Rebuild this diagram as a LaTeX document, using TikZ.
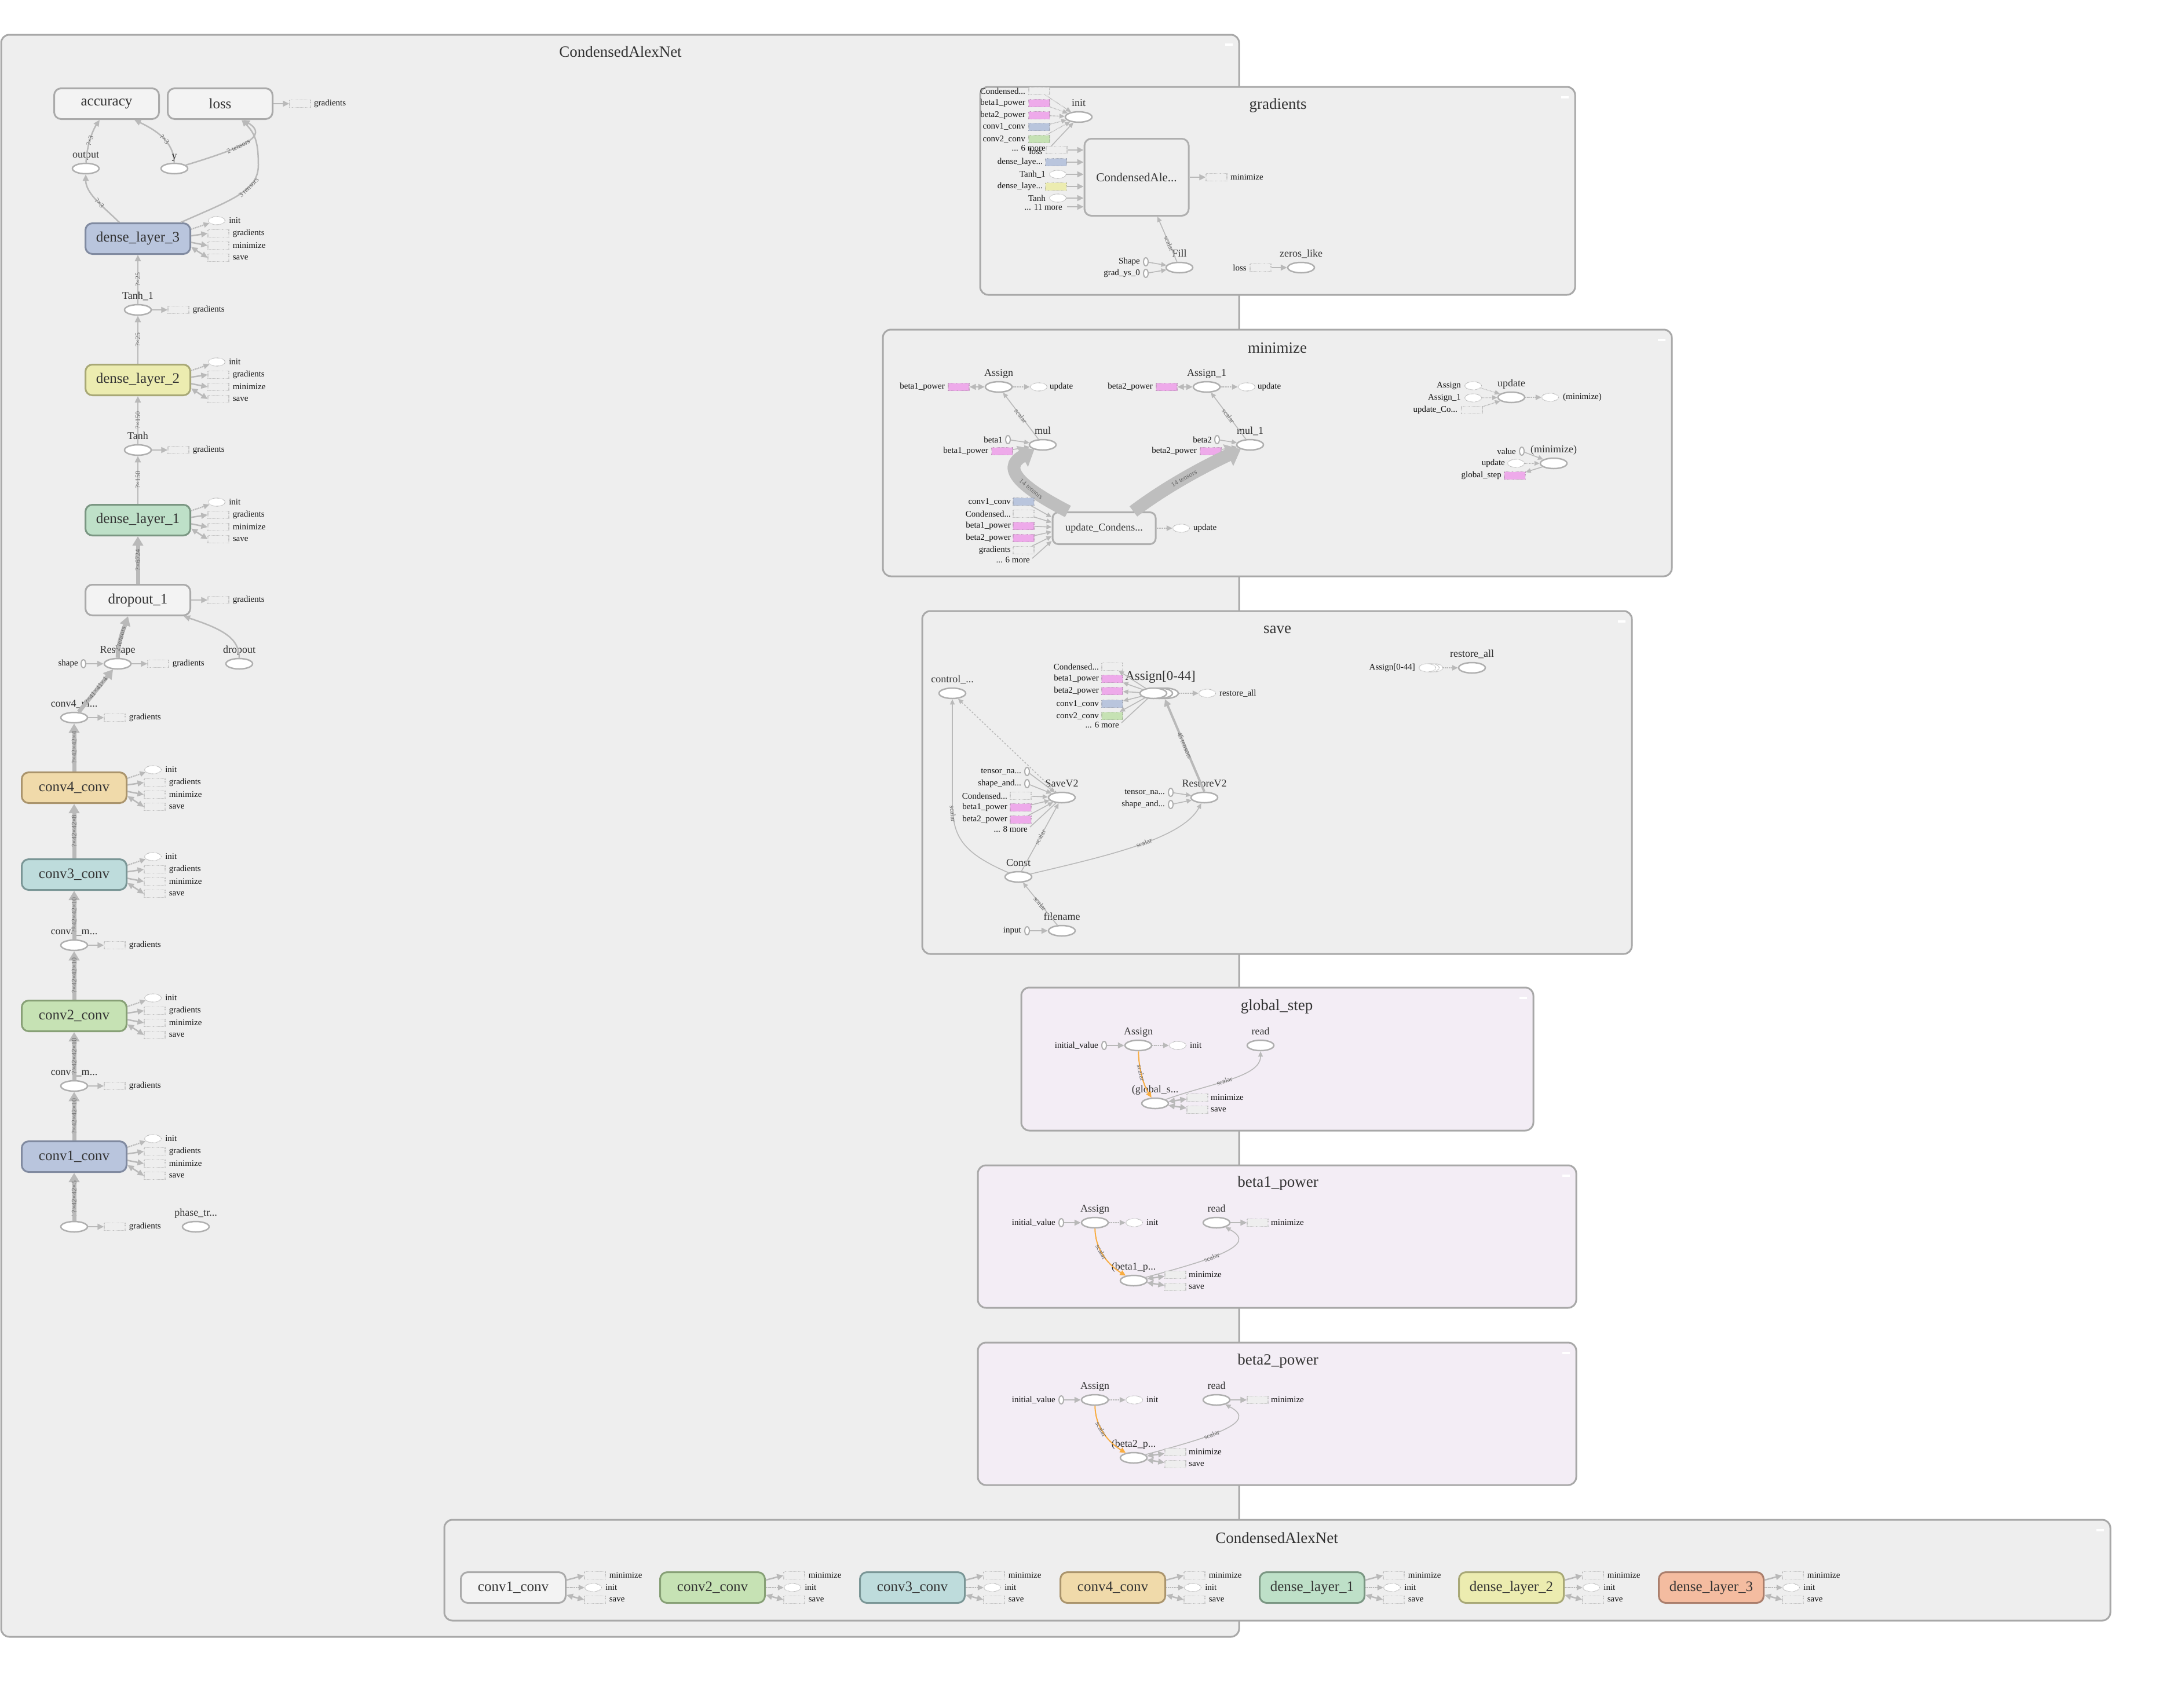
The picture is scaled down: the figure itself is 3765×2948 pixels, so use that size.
\documentclass[tikz,border=0pt]{standalone}
\usepackage{fontspec}
\setmainfont{Liberation Serif}
\usetikzlibrary{shapes.geometric,arrows.meta,calc}

% palette
\definecolor{bgmain}{RGB}{238,238,238}
\definecolor{bglav}{RGB}{243,237,245}
\definecolor{gline}{RGB}{168,168,168}
\definecolor{ecol}{RGB}{185,185,185}
\definecolor{bandcol}{RGB}{190,190,190}
\definecolor{opline}{RGB}{175,175,175}
\definecolor{dcol}{RGB}{185,185,185}
\definecolor{ntxt}{RGB}{51,51,51}
\definecolor{ltxt}{RGB}{20,20,20}
\definecolor{etxt}{RGB}{105,105,105}
\definecolor{fbox}{RGB}{243,243,243}
\definecolor{lwht}{RGB}{170,170,170}
\definecolor{fblue}{RGB}{185,197,221}
\definecolor{lblue}{RGB}{128,138,160}
\definecolor{fyel}{RGB}{236,236,176}
\definecolor{lyel}{RGB}{168,168,118}
\definecolor{fgrn}{RGB}{190,224,200}
\definecolor{lgrn}{RGB}{122,150,130}
\definecolor{fgrn2}{RGB}{198,226,180}
\definecolor{lgrn2}{RGB}{135,160,118}
\definecolor{fteal}{RGB}{190,220,220}
\definecolor{lteal}{RGB}{122,150,150}
\definecolor{ftan}{RGB}{240,218,170}
\definecolor{ltan}{RGB}{170,148,108}
\definecolor{fsal}{RGB}{244,188,160}
\definecolor{lsal}{RGB}{170,126,108}
\definecolor{fpink}{RGB}{238,170,234}
\definecolor{orng}{RGB}{248,172,64}

\tikzset{
  grp/.style={draw=gline, line width=3pt, rounded corners=14pt, fill=#1},
  ttl/.style={font=\fontsize{27}{30}\selectfont, text=ntxt, inner sep=0pt},
  meta/.style 2 args={rectangle, draw=#2, fill=#1, line width=3pt, rounded corners=12pt,
      minimum width=181pt, minimum height=53pt, inner sep=0pt,
      font=\fontsize{25}{28}\selectfont, text=ntxt},
  op/.style={ellipse, draw=opline, fill=white, line width=2.5pt,
      minimum width=46pt, minimum height=18pt, inner sep=0pt},
  cst/.style={ellipse, draw=opline, fill=white, line width=2pt,
      minimum width=8pt, minimum height=14pt, inner sep=0pt},
  dbox/.style={rectangle, draw=#1!60!gray, densely dotted, line width=1.2pt, fill=#1,
      minimum width=36pt, minimum height=13pt, inner sep=0pt},
  dbox/.default=bgmain,
  dell/.style={ellipse, draw=dcol, densely dotted, line width=1.2pt, fill=white,
      minimum width=29pt, minimum height=14pt, inner sep=0pt},
  oplab/.style={font=\fontsize{18}{20}\selectfont, text=ntxt, inner sep=0pt,
      text depth=0pt, label distance=8pt},
  slab/.style={font=\fontsize{15}{17}\selectfont, text=ltxt, anchor=west, inner sep=0pt},
  ilab/.style={font=\fontsize{15}{17}\selectfont, text=ltxt, anchor=east, inner sep=0pt},
  elab/.style={font=\fontsize{12}{13}\selectfont, text=etxt, sloped, inner sep=1pt},
  e/.style={draw=ecol, line width=2.5pt, -{Triangle[length=11pt,width=10pt]}},
  ebi/.style={draw=ecol, line width=2.5pt,
      {Triangle[length=11pt,width=10pt]}-{Triangle[length=11pt,width=10pt]}},
  ethin/.style={draw=ecol, line width=1.6pt, -{Triangle[length=9pt,width=8pt]}},
  eplain/.style={draw=ecol, line width=1.6pt},
  ectl/.style={draw=ecol, line width=2.2pt, densely dotted, -{Triangle[length=10pt,width=9pt]}},
  ectlthin/.style={draw=ecol, line width=1.4pt, densely dotted, -{Triangle[length=9pt,width=8pt]}},
  edash/.style={draw=ecol, line width=1.6pt, dashed, -{Triangle[length=9pt,width=8pt]}},
  ethick/.style={draw=ecol, line width=7pt, -{Triangle[length=16pt,width=18pt]}},
  eband/.style={draw=bandcol, line width=22pt, -{Triangle[length=24pt,width=40pt]}},
  eorg/.style={draw=orng, line width=2pt, -{Triangle[length=10pt,width=9pt]}},
}

% four sinks (init, gradients, minimize, save) on the right of a layer box
\newcommand\sidefour[1]{%
  \node[dell] (#1-i) at ($(#1.east)+(44,-31)$) {};
  \node[dbox] (#1-g) at ($(#1.east)+(47,-9)$) {};
  \node[dbox] (#1-m) at ($(#1.east)+(47,12)$) {};
  \node[dbox] (#1-s) at ($(#1.east)+(47,33)$) {};
  \node[slab] (#1-it) at ($(#1-i.east)+(6,0)$) {init};
  \node[slab] (#1-gt) at ($(#1-g.east)+(6,0)$) {gradients};
  \node[slab] (#1-mt) at ($(#1-m.east)+(6,0)$) {minimize};
  \node[slab] (#1-st) at ($(#1-s.east)+(6,0)$) {save};
  \draw[ectl] (#1.10) -- (#1-i);
  \draw[e] (#1.3) -- (#1-g.west);
  \draw[e] (#1.-4) -- (#1-m.west);
  \draw[ebi] (#1.-9) -- (#1-s.west);
}
% three sinks (minimize, init, save) for the layer boxes of the lower group
\newcommand\sidethree[1]{%
  \node[dbox] (#1-m) at ($(#1.east)+(49,-21)$) {};
  \node[dell] (#1-i) at ($(#1.east)+(46,0)$) {};
  \node[dbox] (#1-s) at ($(#1.east)+(49,21)$) {};
  \node[slab] (#1-mt) at ($(#1-m.east)+(6,0)$) {minimize};
  \node[slab] (#1-it) at ($(#1-i.east)+(6,0)$) {init};
  \node[slab] (#1-st) at ($(#1-s.east)+(6,0)$) {save};
  \draw[e] (#1.8) -- (#1-m.west);
  \draw[ectl] (#1.east) -- (#1-i);
  \draw[ebi] (#1.-8) -- (#1-s.west);
}
% a gradients sink on the right of an op
\newcommand\gradsink[1]{%
  \node[dbox] (#1-g) at ($(#1)+(70,0)$) {};
  \node[slab] (#1-gt) at ($(#1-g.east)+(6,0)$) {gradients};
  \draw[e] (#1) -- (#1-g);
}

\begin{document}
\begin{tikzpicture}[x=1pt,y=-1pt]
\useasboundingbox (0,0) rectangle (3765,2948);
\fill[white] (0,0) rectangle (3765,2948);

% ================= main graph =================
\draw[grp=bgmain] (2,60) rectangle (2139,2826);
\fill[white] (2115,75) rectangle (2128,79);
\node[ttl] (mt) at (1071,89) {CondensedAlexNet};

\node[meta={fbox}{lwht}] (acc) at (184,179) {accuracy};
\node[meta={fbox}{lwht}] (loss) at (380,179) {loss};
\node[dbox] (loss-g) at (518,179) {};
\node[slab] (loss-gt) at (542,179) {gradients};
\draw[e] (loss) -- (loss-g);

\node[op,label={[oplab]90:output}] (out) at (148,291) {};
\node[op] (yv) at (301,291) {};
\node[meta={fblue}{lblue}] (dl3) at (238,412) {dense\_layer\_3};
\node[op,label={[oplab]90:Tanh\_1}] (tanh1) at (238,535) {};
\node[meta={fyel}{lyel}] (dl2) at (238,656) {dense\_layer\_2};
\node[op,label={[oplab]90:Tanh}] (tanh) at (238,777) {};
\node[meta={fgrn}{lgrn}] (dl1) at (238,898) {dense\_layer\_1};
\node[meta={fbox}{lwht}] (drop1) at (238,1036) {dropout\_1};
\node[op,label={[oplab]90:Reshape}] (resh) at (203,1146) {};
\node[cst] (shape) at (144,1146) {};
\node[ilab] (shape-t) at (135,1146) {shape};
\node[op,label={[oplab]90:dropout}] (dropo) at (413,1146) {};
\node[op,label={[oplab]90:conv4\_m...}] (c4m) at (128,1239) {};
\node[meta={ftan}{ltan}] (c4) at (128,1360) {conv4\_conv};
\node[meta={fteal}{lteal}] (c3) at (128,1510) {conv3\_conv};
\node[op,label={[oplab]90:conv3\_m...}] (c3m) at (128,1632) {};
\node[meta={fgrn2}{lgrn2}] (c2) at (128,1754) {conv2\_conv};
\node[op,label={[oplab]90:conv1\_m...}] (c1m) at (128,1875) {};
\node[meta={fblue}{lblue}] (c1) at (128,1997) {conv1\_conv};
\node[op,label={[oplab]90:x}] (xin) at (128,2118) {};
\node[op,label={[oplab]90:phase\_tr...}] (phase) at (338,2118) {};

\sidefour{dl3}
\sidefour{dl2}
\sidefour{dl1}
\sidefour{c4}
\sidefour{c3}
\sidefour{c2}
\sidefour{c1}
\gradsink{tanh1}
\gradsink{tanh}
\gradsink{resh}
\gradsink{c4m}
\gradsink{c3m}
\gradsink{c1m}
\gradsink{xin}
\node[dbox] (drop1-g) at ($(drop1.east)+(47,0)$) {};
\node[slab] (drop1-gt) at ($(drop1-g.east)+(6,0)$) {gradients};
\draw[e] (drop1) -- (drop1-g);

% data flow of the main column
\draw[ethick] (xin) -- (c1) node[elab,midway]{?×42×42×5};
\draw[ethick] (c1) -- (c1m) node[elab,midway]{?×42×42×10};
\draw[ethick] (c1m) -- (c2) node[elab,midway]{?×42×42×10};
\draw[ethick] (c2) -- (c3m) node[elab,midway]{?×42×42×10};
\draw[ethick] (c3m) -- (c3) node[elab,midway]{?×42×42×10};
\draw[ethick] (c3) -- (c4) node[elab,midway]{?×42×42×8};
\draw[ethick] (c4) -- (c4m) node[elab,midway]{?×42×42×4};
\draw[ethick] (c4m) -- (resh) node[elab,midway]{?×41×41×4};
\draw[ethick] (resh) .. controls (204,1105) and (214,1085) .. ($(drop1.south)+(-17,0)$) node[elab,pos=0.4]{2 tensors};
\draw[e] (shape) -- (resh);
\draw[e] (dropo) .. controls (413,1100) and (380,1085) .. ($(drop1.south)+(79,0)$);
\draw[ethick] (drop1) -- (dl1) node[elab,midway]{?×6724};
\draw[e] (dl1) -- (tanh) node[elab,midway]{?×150};
\draw[e] (tanh) -- (dl2) node[elab,midway]{?×150};
\draw[e] (dl2) -- (tanh1) node[elab,midway]{?×25};
\draw[e] (tanh1) -- (dl3) node[elab,midway]{?×25};
\draw[e] ($(dl3.north)+(-32,0)$) .. controls (182,360) and (148,335) .. (out) node[elab,pos=0.45]{?×3};
\draw[e] (out) .. controls (150,250) and (160,225) .. ($(acc.south)+(-12,0)$) node[elab,pos=0.45]{?×3};
\draw[e] (yv) .. controls (300,245) and (270,225) .. ($(acc.south)+(48,0)$) node[elab,pos=0.45]{?×3};
\draw[e] (yv) .. controls (420,255) and (465,235) .. ($(loss.south)+(40,0)$) node[elab,pos=0.4]{2 tensors};
\draw[e] ($(dl3.north)+(74,0)$) .. controls (400,345) and (446,330) .. (446,285) node[elab,pos=0.65]{3 tensors} .. controls (446,245) and (440,230) .. ($(loss.south)+(37,0)$);
\node[oplab, anchor=base] (yv-t) at (301,274) {y};

% ================= gradients =================
\draw[grp=bgmain] (1692,150) rectangle (2719,509);
\fill[white] (2695,166) rectangle (2708,170);
\node[ttl] (gt) at (2206,182) {gradients};
\node[op,label={[oplab]90:init}] (g-init) at (1862,202) {};
\node[dbox] (gi1) at (1794,157) {};
\node[ilab] (gi1t) at (1770,157) {Condensed...};
\node[dbox=fpink] (gi2) at (1794,178) {};
\node[ilab] (gi2t) at (1770,178) {beta1\_power};
\node[dbox=fpink] (gi3) at (1794,199) {};
\node[ilab] (gi3t) at (1770,199) {beta2\_power};
\node[dbox=fblue] (gi4) at (1794,219) {};
\node[ilab] (gi4t) at (1770,219) {conv1\_conv};
\node[dbox=fgrn2] (gi5) at (1794,240) {};
\node[ilab] (gi5t) at (1770,240) {conv2\_conv};
\node[ilab] (gi6t) at (1805,256) {... 6 more};
\coordinate (gi6) at (1814,253);
\draw[ectlthin] (gi1) -- (g-init);
\draw[ectlthin] (gi2) -- (g-init);
\draw[ectlthin] (gi3) -- (g-init);
\draw[ectlthin] (gi4) -- (g-init);
\draw[ectlthin] (gi5) -- (g-init);
\draw[ethin] (gi6) -- (g-init);

\node[rectangle, draw=opline, fill=bgmain, line width=3pt, rounded corners=12pt,
      minimum width=180pt, minimum height=133pt, inner sep=0pt,
      font=\fontsize{21}{23}\selectfont, text=ntxt] (g-ca) at (1962,306) {CondensedAle...};
\node[dbox] (gc1) at (1824,259) {};
\node[ilab] (gc1t) at (1800,261) {loss};
\node[dbox=fblue] (gc2) at (1823,280) {};
\node[ilab] (gc2t) at (1800,280) {dense\_laye...};
\node[dell] (gc3) at (1826,301) {};
\node[ilab] (gc3t) at (1805,301) {Tanh\_1};
\node[dbox=fyel] (gc4) at (1823,322) {};
\node[ilab] (gc4t) at (1800,322) {dense\_laye...};
\node[dell] (gc5) at (1826,342) {};
\node[ilab] (gc5t) at (1805,342) {Tanh};
\node[ilab] (gc6t) at (1834,358) {... 11 more};
\coordinate (gc6) at (1842,357);
\draw[e] (gc1) -- (gc1 -| g-ca.west);
\draw[e] (gc2) -- (gc2 -| g-ca.west);
\draw[e] (gc3) -- (gc3 -| g-ca.west);
\draw[e] (gc4) -- (gc4 -| g-ca.west);
\draw[e] (gc5) -- (gc5 -| g-ca.west);
\draw[e] (gc6) -- (gc6 -| g-ca.west);
\node[dbox] (g-min) at (2100,306) {};
\node[slab] (g-mint) at (2124,306) {minimize};
\draw[e] (g-ca) -- (g-min);

\node[op,label={[oplab]90:Fill}] (g-fill) at (2036,462) {};
\node[cst] (g-shape) at (1978,452) {};
\node[ilab] (g-shapet) at (1968,452) {Shape};
\node[cst] (g-ys) at (1978,472) {};
\node[ilab] (g-yst) at (1968,472) {grad\_ys\_0};
\draw[ethin] (g-shape) -- (g-fill);
\draw[ethin] (g-ys) -- (g-fill);
\draw[ethin] (g-fill) -- ($(g-ca.south)+(36,0)$) node[elab,pos=0.4]{scalar};
\node[op,label={[oplab]90:zeros\_like}] (g-zl) at (2246,462) {};
\node[dbox] (g-zlin) at (2176,462) {};
\node[ilab] (g-zlint) at (2152,462) {loss};
\draw[e] (g-zlin) -- (g-zl);

% ================= minimize =================
\draw[grp=bgmain] (1524,569) rectangle (2886,995);
\fill[white] (2862,585) rectangle (2875,589);
\node[ttl] (mnt) at (2205,601) {minimize};

\node[op,label={[oplab]90:Assign}] (m-as) at (1724,668) {};
\node[dbox=fpink] (m-asv) at (1655,668) {};
\node[ilab] (m-asvt) at (1631,668) {beta1\_power};
\node[dell] (m-asu) at (1793,668) {};
\node[slab] (m-asut) at (1812,668) {update};
\draw[ebi] (m-asv) -- (m-as);
\draw[ectl] (m-as) -- (m-asu);

\node[op,label={[oplab]90:Assign\_1}] (m-as1) at (2083,668) {};
\node[dbox=fpink] (m-as1v) at (2014,668) {};
\node[ilab] (m-as1vt) at (1990,668) {beta2\_power};
\node[dell] (m-as1u) at (2152,668) {};
\node[slab] (m-as1ut) at (2171,668) {update};
\draw[ebi] (m-as1v) -- (m-as1);
\draw[ectl] (m-as1) -- (m-as1u);

\node[op,label={[oplab]90:mul}] (m-mul) at (1800,768) {};
\node[cst] (m-b1) at (1740,759) {};
\node[ilab] (m-b1t) at (1731,759) {beta1};
\node[dbox=fpink] (m-b1p) at (1730,779) {};
\node[ilab] (m-b1pt) at (1706,779) {beta1\_power};
\draw[ethin] (m-b1) -- (m-mul);
\draw[ethin] (m-b1p) -- (m-mul);
\draw[ethin] (m-mul) -- (m-as) node[elab,midway]{scalar};

\node[op,label={[oplab]90:mul\_1}] (m-mul1) at (2158,768) {};
\node[cst] (m-b2) at (2101,759) {};
\node[ilab] (m-b2t) at (2092,759) {beta2};
\node[dbox=fpink] (m-b2p) at (2090,779) {};
\node[ilab] (m-b2pt) at (2066,779) {beta2\_power};
\draw[ethin] (m-b2) -- (m-mul1);
\draw[ethin] (m-b2p) -- (m-mul1);
\draw[ethin] (m-mul1) -- (m-as1) node[elab,midway]{scalar};

\node[rectangle, draw=opline, fill=bgmain, line width=3pt, rounded corners=10pt,
      minimum width=178pt, minimum height=55pt, inner sep=0pt,
      font=\fontsize{18}{20}\selectfont, text=ntxt] (m-uc) at (1906,912) {update\_Condens...};
\draw[eband] ($(m-uc.north west)+(28,0)$) .. controls (1770,845) and (1725,810) .. (m-mul) node[elab,pos=0.35]{14 tensors};
\draw[eband] ($(m-uc.north east)+(-40,0)$) .. controls (2020,835) and (2090,800) .. (m-mul1) node[elab,pos=0.45]{14 tensors};
\node[dbox=fblue] (m-u1) at (1767,866) {};
\node[ilab] (m-u1t) at (1745,866) {conv1\_conv};
\node[dbox] (m-u2) at (1767,887) {};
\node[ilab] (m-u2t) at (1745,887) {Condensed...};
\node[dbox=fpink] (m-u3) at (1767,908) {};
\node[ilab] (m-u3t) at (1745,908) {beta1\_power};
\node[dbox=fpink] (m-u4) at (1767,929) {};
\node[ilab] (m-u4t) at (1745,929) {beta2\_power};
\node[dbox] (m-u5) at (1767,950) {};
\node[ilab] (m-u5t) at (1745,950) {gradients};
\node[ilab] (m-u6t) at (1778,967) {... 6 more};
\coordinate (m-u6) at (1782,964);
\draw[ethin] (m-u1) -- ($(m-uc.west)+(0,-19)$);
\draw[ethin] (m-u2) -- ($(m-uc.west)+(0,-10)$);
\draw[ethin] (m-u3) -- ($(m-uc.west)+(0,-2)$);
\draw[ethin] (m-u4) -- ($(m-uc.west)+(0,6)$);
\draw[ethin] (m-u5) -- ($(m-uc.west)+(0,14)$);
\draw[ethin] (m-u6) -- ($(m-uc.west)+(0,22)$);
\node[dell] (m-ucu) at (2039,912) {};
\node[slab] (m-ucut) at (2060,912) {update};
\draw[ectl] (m-uc) -- (m-ucu);

\node[op,label={[oplab]90:update}] (m-upd) at (2609,686) {};
\node[dell] (m-ud1) at (2543,666) {};
\node[ilab] (m-ud1t) at (2522,666) {Assign};
\node[dell] (m-ud2) at (2543,687) {};
\node[ilab] (m-ud2t) at (2522,687) {Assign\_1};
\node[dbox] (m-ud3) at (2541,708) {};
\node[ilab] (m-ud3t) at (2516,708) {update\_Co...};
\draw[ectlthin] (m-ud1) -- (m-upd);
\draw[ectlthin] (m-ud2) -- (m-upd);
\draw[ectlthin] (m-ud3) -- (m-upd);
\node[dell] (m-updo) at (2676,686) {};
\node[slab] (m-updot) at (2698,686) {(minimize)};
\draw[ectl] (m-upd) -- (m-updo);

\node[op,label={[oplab]90:(minimize)}] (m-fin) at (2682,800) {};
\node[cst] (m-val) at (2627,779) {};
\node[ilab] (m-valt) at (2617,779) {value};
\node[dell] (m-fu) at (2617,800) {};
\node[ilab] (m-fut) at (2598,800) {update};
\node[dbox=fpink] (m-gs) at (2615,821) {};
\node[ilab] (m-gst) at (2592,821) {global\_step};
\draw[ethin] (m-val) -- (m-fin);
\draw[ectlthin] (m-fu) -- (m-fin);
\draw[ethin] (m-fin) -- (m-gs);

% ================= save =================
\draw[grp=bgmain] (1592,1055) rectangle (2817,1647);
\fill[white] (2793,1071) rectangle (2806,1075);
\node[ttl] (svt) at (2205,1087) {save};

\node[op,label={[oplab]90:control\_...}] (s-ctl) at (1644,1197) {};
\node[op] (s-a3) at (2011,1197) {};
\node[op] (s-a2) at (2001,1197) {};
\node[op] (s-asg) at (1991,1197) {};
\node[font=\fontsize{23}{25}\selectfont, text=ntxt, inner sep=0pt] (s-asgt) at (2003,1169) {Assign[0-44]};
\node[dbox] (s-v1) at (1920,1151) {};
\node[ilab] (s-v1t) at (1897,1151) {Condensed...};
\node[dbox=fpink] (s-v2) at (1920,1172) {};
\node[ilab] (s-v2t) at (1897,1172) {beta1\_power};
\node[dbox=fpink] (s-v3) at (1920,1193) {};
\node[ilab] (s-v3t) at (1897,1193) {beta2\_power};
\node[dbox=fblue] (s-v4) at (1920,1215) {};
\node[ilab] (s-v4t) at (1897,1215) {conv1\_conv};
\node[dbox=fgrn2] (s-v5) at (1920,1236) {};
\node[ilab] (s-v5t) at (1932,1252) {... 6 more};
\node[ilab] (s-v5tt) at (1897,1236) {conv2\_conv};
\coordinate (s-v6) at (1936,1248);
\draw[ethin] (s-asg) -- (s-v1);
\draw[ethin] (s-asg) -- (s-v2);
\draw[ethin] (s-asg) -- (s-v3);
\draw[ethin] (s-asg) -- (s-v4);
\draw[ethin] (s-asg) -- (s-v5);
\draw[eplain] (s-asg) -- (s-v6);
\node[dell] (s-ra) at (2084,1197) {};
\node[slab] (s-rat) at (2105,1197) {restore\_all};
\draw[ectl] (s-a3) -- (s-ra);

\node[op,label={[oplab]90:restore\_all}] (s-rall) at (2541,1153) {};
\node[dell] (s-rin3) at (2476,1153) {};
\node[dell] (s-rin2) at (2470,1153) {};
\node[dell] (s-rin) at (2464,1153) {};
\node[ilab] (s-rint) at (2443,1153) {Assign[0-44]};
\draw[ectl] (s-rin3) -- (s-rall);

\node[op,label={[oplab]90:SaveV2}] (s-save) at (1833,1377) {};
\node[cst] (s-t1) at (1773,1332) {};
\node[ilab] (s-t1t) at (1763,1332) {tensor\_na...};
\node[cst] (s-t2) at (1773,1353) {};
\node[ilab] (s-t2t) at (1763,1353) {shape\_and...};
\node[dbox] (s-t3) at (1762,1374) {};
\node[ilab] (s-t3t) at (1739,1374) {Condensed...};
\node[dbox=fpink] (s-t4) at (1762,1394) {};
\node[ilab] (s-t4t) at (1739,1394) {beta1\_power};
\node[dbox=fpink] (s-t5) at (1762,1415) {};
\node[ilab] (s-t5t) at (1739,1415) {beta2\_power};
\node[ilab] (s-t6t) at (1774,1432) {... 8 more};
\coordinate (s-t6) at (1778,1428);
\draw[ethin] (s-t1) -- (s-save);
\draw[ethin] (s-t2) -- (s-save);
\draw[ethin] (s-t3) -- (s-save);
\draw[ethin] (s-t4) -- (s-save);
\draw[ethin] (s-t5) -- (s-save);
\draw[eplain] (s-t6) -- (s-save);
\draw[edash] (s-save) -- (s-ctl);

\node[op,label={[oplab]90:RestoreV2}] (s-rv) at (2079,1377) {};
\node[cst] (s-r1) at (2021,1368) {};
\node[ilab] (s-r1t) at (2011,1368) {tensor\_na...};
\node[cst] (s-r2) at (2021,1389) {};
\node[ilab] (s-r2t) at (2011,1389) {shape\_and...};
\draw[ethin] (s-r1) -- (s-rv);
\draw[ethin] (s-r2) -- (s-rv);
\draw[draw=ecol, line width=4pt, -{Triangle[length=12pt,width=12pt]}] (s-rv.north) -- (s-a3.south) node[elab,midway]{45 tensors};

\node[op,label={[oplab]90:Const}] (s-const) at (1758,1514) {};
\draw[ethin] (s-const) .. controls (1655,1470) and (1644,1440) .. (1644,1380) node[elab,pos=0.85]{scalar} -- (s-ctl);
\draw[ethin] (s-const) -- (s-save) node[elab,midway]{scalar};
\draw[ethin] (s-const) .. controls (1900,1480) and (2040,1450) .. (s-rv) node[elab,pos=0.55]{scalar};
\node[op,label={[oplab]90:filename}] (s-fn) at (1833,1607) {};
\node[cst] (s-in) at (1773,1607) {};
\node[ilab] (s-int) at (1763,1607) {input};
\draw[e] (s-in) -- (s-fn);
\draw[ethin] (s-fn) -- (s-const) node[elab,midway]{scalar};

% ================= global_step =================
\draw[grp=bglav] (1763,1705) rectangle (2647,1952);
\fill[white] (2623,1721) rectangle (2636,1725);
\node[ttl] (gst) at (2204,1738) {global\_step};
\node[op,label={[oplab]90:Assign}] (gs-as) at (1965,1805) {};
\node[cst] (gs-iv) at (1906,1805) {};
\node[ilab] (gs-ivt) at (1896,1805) {initial\_value};
\node[dell] (gs-init) at (2033,1805) {};
\node[slab] (gs-initt) at (2054,1805) {init};
\draw[e] (gs-iv) -- (gs-as);
\draw[ectl] (gs-as) -- (gs-init);
\node[op,label={[oplab]90:read}] (gs-rd) at (2176,1805) {};
\node[op,label={[oplab]90:(global\_s...}] (gs-v) at (1994,1905) {};
\draw[eorg] (gs-as) .. controls (1966,1850) and (1975,1875) .. (gs-v) node[elab,pos=0.4]{scalar};
\draw[ethin] (gs-v) .. controls (2090,1870) and (2176,1860) .. (gs-rd) node[elab,pos=0.45]{scalar};
\node[dbox] (gs-m) at (2067,1895) {};
\node[slab] (gs-mt) at (2090,1895) {minimize};
\node[dbox] (gs-s) at (2067,1916) {};
\node[slab] (gs-st) at (2090,1916) {save};
\draw[ebi] (gs-v) -- (gs-m);
\draw[ebi] (gs-v) -- (gs-s);

% ================= beta1_power =================
\draw[grp=bglav] (1688,2012) rectangle (2721,2258);
\fill[white] (2697,2028) rectangle (2710,2032);
\node[ttl] (b1t) at (2206,2043) {beta1\_power};
\node[op,label={[oplab]90:Assign}] (b1-as) at (1890,2111) {};
\node[cst] (b1-iv) at (1832,2111) {};
\node[ilab] (b1-ivt) at (1822,2111) {initial\_value};
\node[dell] (b1-init) at (1958,2111) {};
\node[slab] (b1-initt) at (1979,2111) {init};
\draw[e] (b1-iv) -- (b1-as);
\draw[ectl] (b1-as) -- (b1-init);
\node[op,label={[oplab]90:read}] (b1-rd) at (2100,2111) {};
\node[dbox] (b1-rm) at (2171,2111) {};
\node[slab] (b1-rmt) at (2194,2111) {minimize};
\draw[e] (b1-rd) -- (b1-rm);
\node[op,label={[oplab]90:(beta1\_p...}] (b1-v) at (1957,2211) {};
\draw[eorg] (b1-as) .. controls (1891,2160) and (1915,2185) .. (b1-v) node[elab,pos=0.4]{scalar};
\draw[ethin] (b1-v) .. controls (2090,2175) and (2175,2150) .. (b1-rd) node[elab,pos=0.4]{scalar};
\node[dbox] (b1-m) at (2029,2201) {};
\node[slab] (b1-mt) at (2052,2201) {minimize};
\node[dbox] (b1-s) at (2029,2222) {};
\node[slab] (b1-st) at (2052,2222) {save};
\draw[ebi] (b1-v) -- (b1-m);
\draw[ebi] (b1-v) -- (b1-s);

% ================= beta2_power =================
\draw[grp=bglav] (1688,2318) rectangle (2721,2564);
\fill[white] (2697,2334) rectangle (2710,2338);
\node[ttl] (b2t) at (2206,2350) {beta2\_power};
\node[op,label={[oplab]90:Assign}] (b2-as) at (1890,2417) {};
\node[cst] (b2-iv) at (1832,2417) {};
\node[ilab] (b2-ivt) at (1822,2417) {initial\_value};
\node[dell] (b2-init) at (1958,2417) {};
\node[slab] (b2-initt) at (1979,2417) {init};
\draw[e] (b2-iv) -- (b2-as);
\draw[ectl] (b2-as) -- (b2-init);
\node[op,label={[oplab]90:read}] (b2-rd) at (2100,2417) {};
\node[dbox] (b2-rm) at (2171,2417) {};
\node[slab] (b2-rmt) at (2194,2417) {minimize};
\draw[e] (b2-rd) -- (b2-rm);
\node[op,label={[oplab]90:(beta2\_p...}] (b2-v) at (1957,2517) {};
\draw[eorg] (b2-as) .. controls (1891,2466) and (1915,2491) .. (b2-v) node[elab,pos=0.4]{scalar};
\draw[ethin] (b2-v) .. controls (2090,2481) and (2175,2456) .. (b2-rd) node[elab,pos=0.4]{scalar};
\node[dbox] (b2-m) at (2029,2507) {};
\node[slab] (b2-mt) at (2052,2507) {minimize};
\node[dbox] (b2-s) at (2029,2528) {};
\node[slab] (b2-st) at (2052,2528) {save};
\draw[ebi] (b2-v) -- (b2-m);
\draw[ebi] (b2-v) -- (b2-s);

% ================= lower CondensedAlexNet group =================
\draw[grp=bgmain] (767,2624) rectangle (3643,2798);
\fill[white] (3619,2640) rectangle (3632,2644);
\node[ttl] (bt) at (2204,2655) {CondensedAlexNet};
\node[meta={fbox}{lwht}] (b-c1) at (886,2741) {conv1\_conv};
\node[meta={fgrn2}{lgrn2}] (b-c2) at (1230,2741) {conv2\_conv};
\node[meta={fteal}{lteal}] (b-c3) at (1575,2741) {conv3\_conv};
\node[meta={ftan}{ltan}] (b-c4) at (1921,2741) {conv4\_conv};
\node[meta={fgrn}{lgrn}] (b-d1) at (2265,2741) {dense\_layer\_1};
\node[meta={fyel}{lyel}] (b-d2) at (2609,2741) {dense\_layer\_2};
\node[meta={fsal}{lsal}] (b-d3) at (2954,2741) {dense\_layer\_3};
\sidethree{b-c1}
\sidethree{b-c2}
\sidethree{b-c3}
\sidethree{b-c4}
\sidethree{b-d1}
\sidethree{b-d2}
\sidethree{b-d3}
\end{tikzpicture}
\end{document}
